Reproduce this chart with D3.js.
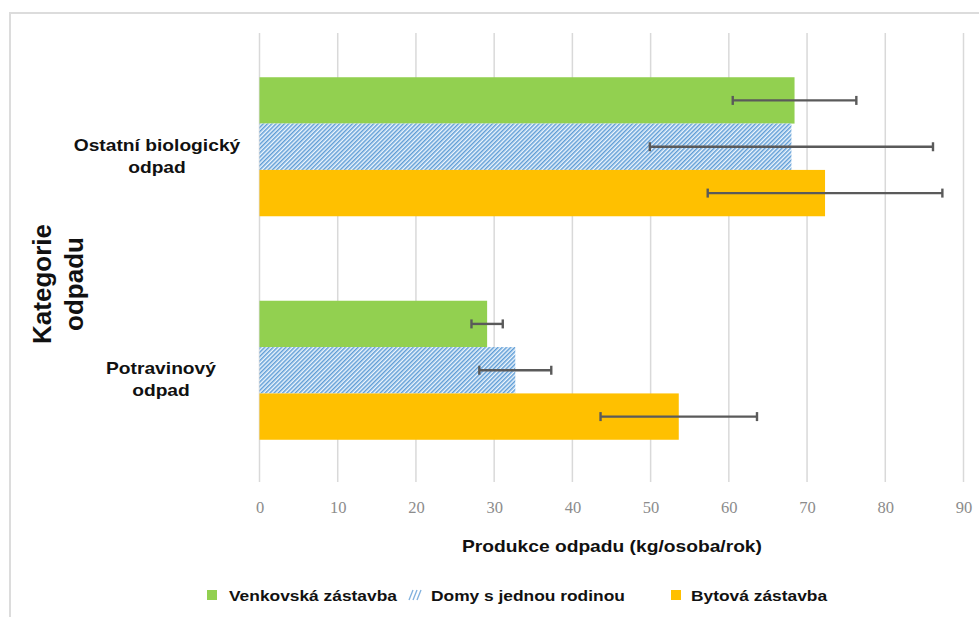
<!DOCTYPE html>
<html>
<head>
<meta charset="utf-8">
<script src="https://cdn.jsdelivr.net/npm/d3@7"></script>
<style>
  html, body { margin: 0; padding: 0; background: #fff; }
  svg { display: block; }
</style>
</head>
<body>
<svg id="chart" width="979" height="617"></svg>
<script>
// Waste categories (top to bottom) and the three housing types
const categories = [["Ostatní biologický", "odpad"], ["Potravinový", "odpad"]];
const seriesNames = ["Venkovská zástavba", "Domy s jednou rodinou", "Bytová zástavba"];

// Mean waste production per category (kg/person/year) and error half-widths
const venkovska = [68.4, 29.1];
const venkovskaErr = [7.9, 2.0];
const domy = [68.0, 32.7];
const domyErr = [18.1, 4.6];
const bytova = [72.3, 53.6];
const bytovaErr = [15.0, 10.0];

const xTicks = [0, 10, 20, 30, 40, 50, 60, 70, 80, 90];

const seriesValues = [venkovska, domy, bytova];
const seriesErrors = [venkovskaErr, domyErr, bytovaErr];
const fills = ["#92D050", "url(#hatch)", "#FFC000"];

const svg = d3.select("#chart");
const SANS = "'Liberation Sans', Arial, sans-serif";

// Slightly widened bold sans text, as in the original layout
function wide(sel, factor) {
  sel.each(function () {
    const w = this.getComputedTextLength();
    d3.select(this).attr("textLength", w * factor).attr("lengthAdjust", "spacingAndGlyphs");
  });
  return sel;
}

// Hatched fill for single-family houses
const defs = svg.append("defs");
const pat = defs.append("pattern")
  .attr("id", "hatch")
  .attr("patternUnits", "userSpaceOnUse")
  .attr("width", 3.0).attr("height", 3.0)
  .attr("patternTransform", "rotate(45)");
pat.append("rect").attr("width", 3.0).attr("height", 3.0).attr("fill", "#eef6fd");
pat.append("rect").attr("width", 1.5).attr("height", 3.0).attr("fill", "#5f9dd6");

// Outer chart frame
svg.append("rect")
  .attr("x", 10).attr("y", 13)
  .attr("width", 1000).attr("height", 640)
  .attr("fill", "#fff")
  .attr("stroke", "#dcdcdc").attr("stroke-width", 2);

const catKeys = categories.map(c => c.join(" "));

const x = d3.scaleLinear().domain([0, 90]).range([259.5, 963.5]);
const y = d3.scaleBand().domain(catKeys).range([35, 482])
  .paddingInner(0.378).paddingOuter(0.189);
const ySub = d3.scaleBand().domain(d3.range(seriesNames.length)).range([0, y.bandwidth()]);

// Vertical gridlines
svg.append("g").selectAll("line").data(xTicks).join("line")
  .attr("x1", d => x(d)).attr("x2", d => x(d))
  .attr("y1", 33).attr("y2", 482)
  .attr("stroke", "#d9d9d9").attr("stroke-width", 1.5);

// Bottom axis tick labels
const xAxis = d3.axisBottom(x).tickValues(xTicks).tickSize(0).tickPadding(0);
const gx = svg.append("g").attr("transform", "translate(0,501)").call(xAxis);
gx.select(".domain").remove();
gx.selectAll("text")
  .attr("font-family", "'Liberation Serif', 'DejaVu Serif', serif")
  .attr("font-size", 16.5)
  .attr("fill", "#8c8c8c");

// Bars
const bars = svg.append("g");
seriesValues.forEach((vals, si) => {
  bars.selectAll(null).data(vals).join("rect")
    .attr("x", x(0))
    .attr("y", (d, ci) => y(catKeys[ci]) + ySub(si))
    .attr("width", d => x(d) - x(0))
    .attr("height", ySub.bandwidth())
    .attr("fill", fills[si]);
});

// Error bars
const err = svg.append("g").attr("stroke", "#5a5a5a").attr("stroke-width", 2.4);
seriesValues.forEach((vals, si) => {
  vals.forEach((v, ci) => {
    const e = seriesErrors[si][ci];
    const cy = y(catKeys[ci]) + ySub(si) + ySub.bandwidth() / 2;
    err.append("line").attr("x1", x(v - e)).attr("x2", x(v + e)).attr("y1", cy).attr("y2", cy);
    [v - e, v + e].forEach(t => {
      err.append("line").attr("x1", x(t)).attr("x2", x(t)).attr("y1", cy - 4.5).attr("y2", cy + 4.5);
    });
  });
});

// Category labels
const catG = svg.append("g")
  .attr("font-family", SANS)
  .attr("font-weight", "bold").attr("font-size", 17)
  .attr("fill", "#111").attr("text-anchor", "middle");
categories.forEach((lines, ci) => {
  const cy = y(catKeys[ci]) + y.bandwidth() / 2;
  const cx = ci === 0 ? 157 : 161;
  lines.forEach((t, li) => {
    wide(catG.append("text").attr("x", cx).attr("y", cy + 4 + li * 22).text(t), 1.13);
  });
});

// Axis titles
wide(svg.append("text")
  .attr("x", 612).attr("y", 552)
  .attr("text-anchor", "middle")
  .attr("font-family", SANS)
  .attr("font-weight", "bold").attr("font-size", 17)
  .attr("fill", "#111")
  .text("Produkce odpadu (kg/osoba/rok)"), 1.13);

const yt = svg.append("text")
  .attr("transform", "translate(0,284) rotate(-90)")
  .attr("text-anchor", "middle")
  .attr("font-family", SANS)
  .attr("font-weight", "bold").attr("font-size", 26)
  .attr("fill", "#111");
yt.append("tspan").attr("x", 0).attr("y", 51).text("Kategorie");
yt.append("tspan").attr("x", 0).attr("y", 83).text("odpadu");

// Legend
const legendX = [207, 409, 671];
const leg = svg.append("g")
  .attr("font-family", SANS)
  .attr("font-weight", "bold").attr("font-size", 15.5)
  .attr("fill", "#111");
seriesNames.forEach((name, si) => {
  const lx = legendX[si];
  if (si === 1) {
    const g = leg.append("g").attr("stroke", "#7fb0de").attr("stroke-width", 1.3);
    [0, 4, 8].forEach(o => {
      g.append("line").attr("x1", lx + o).attr("y1", 600).attr("x2", lx + o + 4).attr("y2", 590);
    });
  } else {
    leg.append("rect").attr("x", lx).attr("y", 590).attr("width", 10).attr("height", 10).attr("fill", fills[si]);
  }
  wide(leg.append("text").attr("x", lx + (si === 2 ? 20 : 22)).attr("y", 601).text(name), 1.12);
});
</script>
</body>
</html>
